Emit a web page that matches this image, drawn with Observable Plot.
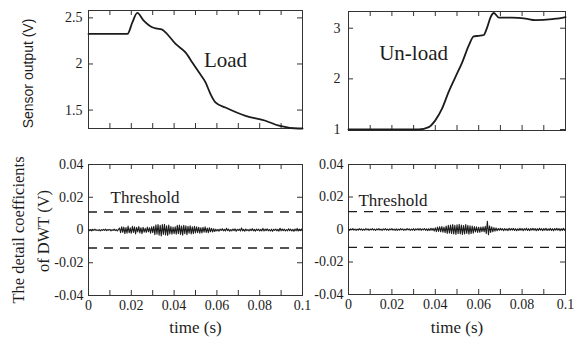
<!DOCTYPE html>
<html><head><meta charset="utf-8">
<script src="https://cdn.jsdelivr.net/npm/d3@7"></script>
<script src="https://cdn.jsdelivr.net/npm/@observablehq/plot@0.6"></script>
<style>
body{margin:0;background:#fff;}
#chart{position:relative;width:577px;height:337px;overflow:hidden;}
#chart svg{position:absolute;left:0;top:0;}
</style></head><body><div id="chart"></div>
<script>
// ---- data ----
const timeTicks = [0, 0.02, 0.04, 0.06, 0.08, 0.1];
const minorTimeTicks = [0.01, 0.02, 0.03, 0.04, 0.05, 0.06, 0.07, 0.08, 0.09];
const loadTicks = [1.5, 2, 2.5];
const unloadTicks = [1, 2, 3];
const dwtTicks = [-0.04, -0.02, 0, 0.02, 0.04];
const thresholds = [0.011, -0.011];

const loadTime = [0, 0.0182, 0.0205, 0.0228, 0.0258, 0.0298, 0.0316, 0.0344, 0.036, 0.0407, 0.0453, 0.0485, 0.0516, 0.0547, 0.057, 0.0593, 0.064, 0.0734, 0.0827, 0.089, 0.098, 0.1];
const loadVolt = [2.326, 2.326, 2.45, 2.554, 2.47, 2.398, 2.385, 2.373, 2.343, 2.217, 2.126, 2.017, 1.909, 1.80, 1.674, 1.583, 1.528, 1.438, 1.384, 1.33, 1.30, 1.30];

const unloadTime = [0, 0.0324, 0.037, 0.040, 0.0431, 0.0461, 0.0492, 0.0524, 0.0554, 0.0577, 0.06, 0.0623, 0.0639, 0.0654, 0.067, 0.0693, 0.0754, 0.0816, 0.0862, 0.0939, 0.099, 0.1];
const unloadVolt = [1.0, 1.0, 1.047, 1.18, 1.41, 1.736, 2.03, 2.327, 2.655, 2.84, 2.85, 2.866, 3.016, 3.21, 3.30, 3.21, 3.21, 3.19, 3.16, 3.18, 3.21, 3.22];

// DWT detail coefficients in mV, sampled every 0.5 ms (0 .. 0.1 s)
const dwtLoadMilliV = [
 0.3,-0.4,0.2,-0.5,0.4,-0.2,0.5,-0.3,0.1,-0.4,0.3,-0.5,0.2,-0.3,0.4,-0.2,0.5,-0.4,0.3,-0.1,0.4,-0.5,0.2,-0.3,0.5,-0.4,0.2,-0.6,0.4,
 1.2,-1.6,2.0,-1.4,1.8,-2.2,1.5,-1.9,2.4,-1.7,1.3,-2.0,2.2,-1.5,1.9,-2.4,1.6,-1.2,2.1,-1.8,1.4,-2.3,1.7,-1.3,1.0,-1.5,1.8,-1.1,1.4,-1.9,2.0,-1.6,
 2.2,-2.8,3.1,-2.6,3.4,-3.2,2.9,-3.6,3.3,-2.7,3.5,-3.0,2.6,-3.3,3.0,-2.4,2.1,-2.6,1.8,-2.2,
 1.9,-2.5,2.8,-2.2,3.0,-2.7,2.4,-3.1,2.9,-2.3,2.6,-2.9,2.2,-2.0,2.5,-2.4,1.9,-2.2,2.3,-1.8,2.0,-1.6,1.7,-1.9,
 1.4,-1.8,1.6,-1.3,1.9,-1.5,1.2,-1.6,1.4,-1.1,1.0,-1.2,0.8,-0.9,
 0.5,-0.6,0.4,-0.7,0.6,-0.3,0.8,-0.5,0.4,-0.6,
 1.1,-0.4,0.5,-0.7,0.3,-0.5,0.6,-0.4,0.7,-0.8,
 0.4,-0.3,0.5,-0.6,1.2,-0.5,0.4,-0.7,0.6,-0.4,
 0.3,-0.6,0.5,-0.4,0.8,-0.5,0.4,-0.7,0.6,-0.3,
 0.5,-0.6,0.4,-0.5,1.0,-0.6,0.5,-0.4,0.7,-0.5,
 0.3,-0.6,0.5,-0.8,0.4,-0.3,0.6,-0.5,0.4,-0.7,
 1.1,-0.5,0.6,-0.4,0.5,-0.6,0.3,-0.5,0.7,-0.4,
 0.5,-0.6,0.4,-0.8,0.6,-0.5,1.0,-0.6,0.5,-0.4,
 0.6,-0.5
];
const dwtUnloadMilliV = [
 0.3,-0.5,0.4,-0.2,0.5,-0.4,0.3,-0.6,0.2,-0.4,
 0.5,-0.3,0.4,-0.5,0.2,-0.4,0.6,-0.3,0.4,-0.5,
 0.3,-0.2,0.5,-0.4,0.3,-0.6,0.4,-0.3,0.5,-0.4,
 0.2,-0.5,0.4,-0.3,0.6,-0.4,0.3,-0.5,0.4,-0.2,
 0.5,-0.4,0.3,-0.5,0.4,-0.6,0.3,-0.4,0.5,-0.3,
 0.4,-0.5,0.2,-0.4,0.6,-0.3,0.4,-0.5,0.3,-0.4,
 0.5,-0.6,0.4,-0.3,0.5,-0.4,0.6,-0.5,0.4,-0.3,
 0.6,-0.5,0.4,-0.7,0.5,-0.6,0.8,-0.5,0.7,-0.9,
 1.0,-1.3,1.5,-1.2,1.7,-1.4,1.8,-1.6,1.5,-1.9,
 2.1,-2.4,2.6,-2.2,2.8,-2.5,3.0,-2.7,2.6,-3.1,2.9,-2.6,3.2,-2.8,2.7,-3.0,2.5,-2.8,3.1,-2.4,2.6,-2.9,2.3,-2.5,2.1,-2.2,
 1.8,-1.5,1.6,-1.8,1.4,-1.7,1.5,-1.3,1.6,-1.4,
 2.0,-2.5,5.0,-3.2,
 2.2,-1.8,1.6,-1.4,1.2,-1.0,0.9,-0.8,
 0.6,-0.5,0.7,-0.4,0.5,-0.8,0.6,-0.5,0.4,-0.7,
 0.8,-0.5,0.6,-0.4,0.7,-0.6,0.5,-0.8,0.4,-0.6,
 0.7,-0.5,0.6,-0.7,0.5,-0.4,0.8,-0.6,0.5,-0.7,
 0.6,-0.4,0.7,-0.5,0.6,-0.8,0.5,-0.6,0.7,-0.4,
 0.5,-0.7,0.6,-0.5,0.8,-0.6,0.4,-0.5,0.7,-0.6,
 0.5,-0.8,0.6,-0.4,0.7,-0.5,0.6,-0.7,0.5,-0.6,
 0.7,-0.5,0.6
];

// ---- drawing ----
const W = 577, H = 337;
const ink = "#1c1c1c";
const serif = "'Liberation Serif', 'Times New Roman', serif";
const sans = "'Liberation Sans', Arial, sans-serif";
const sampleTime = (arr) => arr.map((v, i) => ({t: i * 0.0005, v: v / 1000}));
const pairs = (ts, vs) => ts.map((t, i) => ({t, v: vs[i]}));

function panel({mL, mR, mT, mB, yDomain, yTicks, yPad, xLabels, marks}) {
  const fw = W - mL - mR, fh = H - mT - mB;
  const m = [
    Plot.frame({stroke: "#333", strokeWidth: 1}),
    Plot.tickX(minorTimeTicks, {x: d => d, insetTop: fh - 5, stroke: "#333"}),
    Plot.tickX(minorTimeTicks, {x: d => d, insetBottom: fh - 5, stroke: "#333"}),
    Plot.tickY(yTicks, {y: d => d, insetRight: fw - 5, stroke: "#333"}),
    Plot.tickY(yTicks, {y: d => d, insetLeft: fw - 5, stroke: "#333"}),
    Plot.axisY(yTicks, {tickSize: 0, tickPadding: yPad, tickFormat: d => String(d), label: null, fontSize: 14})
  ];
  if (xLabels) m.push(Plot.axisX(timeTicks, {tickSize: 0, tickPadding: 5, tickFormat: d => String(d), label: null, fontSize: 14}));
  return Plot.plot({
    width: W, height: H, marginLeft: mL, marginRight: mR, marginTop: mT, marginBottom: mB,
    style: {background: "transparent", overflow: "visible", fontFamily: serif, fontSize: "14px", color: ink},
    x: {domain: [0, 0.1], axis: null},
    y: {domain: yDomain, axis: null},
    marks: m.concat(marks)
  });
}

const chart = document.getElementById("chart");
const rotLabel = {frameAnchor: "left", rotate: -90, textAnchor: "middle", lineAnchor: "middle", fill: ink};

chart.append(panel({
  mL: 88, mR: 275, mT: 10, mB: 209, yDomain: [1.30, 2.58], yTicks: loadTicks, yPad: 6, xLabels: false,
  marks: [
    Plot.line(pairs(loadTime, loadVolt), {x: "t", y: "v", stroke: ink, strokeWidth: 1.8, curve: "monotone-x"}),
    Plot.text(["Load"], {text: d => d, x: 0.064, y: 2.04, fontSize: 21, fill: ink}),
    Plot.text(["Sensor output (V)"], {...rotLabel, text: d => d, dx: -60, dy: 4, fontFamily: sans, fontSize: 14})
  ]
}));

chart.append(panel({
  mL: 348, mR: 12, mT: 11, mB: 207, yDomain: [0.98, 3.33], yTicks: unloadTicks, yPad: 8, xLabels: false,
  marks: [
    Plot.line(pairs(unloadTime, unloadVolt), {x: "t", y: "v", stroke: ink, strokeWidth: 1.8, curve: "monotone-x"}),
    Plot.text(["Un-load"], {text: d => d, x: 0.030, y: 2.50, fontSize: 21, fill: ink})
  ]
}));

chart.append(panel({
  mL: 88, mR: 275, mT: 164, mB: 42, yDomain: [-0.04, 0.04], yTicks: dwtTicks, yPad: 5, xLabels: true,
  marks: [
    Plot.ruleY(thresholds, {y: d => d, stroke: ink, strokeWidth: 1.3, strokeDasharray: "9,7"}),
    Plot.line(sampleTime(dwtLoadMilliV), {x: "t", y: "v", stroke: ink, strokeWidth: 1.1}),
    Plot.text(["Threshold"], {text: d => d, x: 0.0103, y: 0.0198, textAnchor: "start", fontSize: 17, fill: ink}),
    Plot.text(["The detail coefficients"], {...rotLabel, text: d => d, dx: -70, dy: 0, fontSize: 16.5}),
    Plot.text(["of DWT (V)"], {...rotLabel, text: d => d, dx: -45, dy: 1, fontSize: 16.5}),
    Plot.text(["time (s)"], {text: d => d, frameAnchor: "bottom", lineAnchor: "middle", dy: 32, fontSize: 17, fill: ink})
  ]
}));

chart.append(panel({
  mL: 348, mR: 12, mT: 164, mB: 43, yDomain: [-0.04, 0.04], yTicks: dwtTicks, yPad: 5, xLabels: true,
  marks: [
    Plot.ruleY(thresholds, {y: d => d, stroke: ink, strokeWidth: 1.3, strokeDasharray: "9,7"}),
    Plot.line(sampleTime(dwtUnloadMilliV), {x: "t", y: "v", stroke: ink, strokeWidth: 1.1}),
    Plot.text(["Threshold"], {text: d => d, x: 0.0046, y: 0.018, textAnchor: "start", fontSize: 17, fill: ink}),
    Plot.text(["time (s)"], {text: d => d, frameAnchor: "bottom", lineAnchor: "middle", dy: 33, fontSize: 17, fill: ink})
  ]
}));
</script></body></html>
